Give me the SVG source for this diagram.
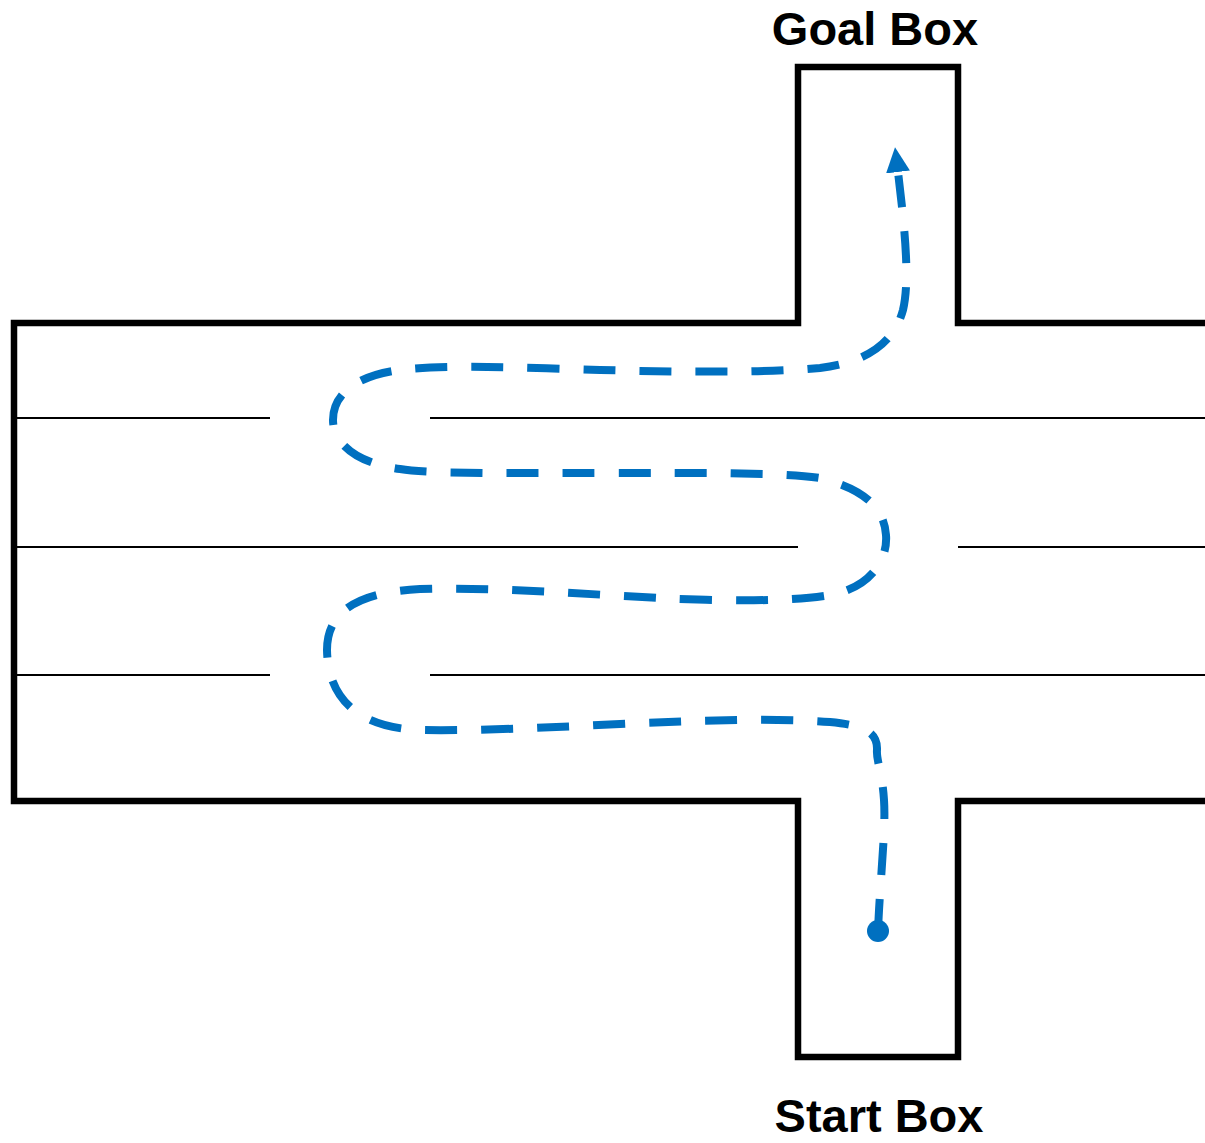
<svg xmlns="http://www.w3.org/2000/svg" width="1205" height="1143" viewBox="0 0 1205 1143">
  <style>
    .wall { fill: none; stroke: #000; stroke-width: 6.5; stroke-linejoin: miter; }
    .lane { stroke: #000; stroke-width: 2; }
    .route { fill: none; stroke: #0070C0; stroke-width: 8; stroke-dasharray: 32 24; }
    .label { font-family: "Liberation Sans", Arial, sans-serif; font-weight: bold; font-size: 47px; fill: #000; text-anchor: middle; }
  </style>
  <defs>
    <marker id="arrow" markerUnits="userSpaceOnUse" viewBox="0 0 25 24" markerWidth="25" markerHeight="24" refX="0" refY="12" orient="auto">
      <path d="M0,0 L25,12 L0,24 Z" fill="#0070C0"/>
    </marker>
  </defs>

  <!-- maze outline with goal box on top and start box below -->
  <g id="maze">
    <polyline class="wall" points="1205,323 958,323 958,67 798,67 798,323 14,323 14,801 798,801 798,1057 958,1057 958,801 1205,801"/>
  </g>

  <!-- inner partitions with openings -->
  <g id="partitions">
    <line class="lane" x1="17" y1="418" x2="270" y2="418"/>
    <line class="lane" x1="430" y1="418" x2="1205" y2="418"/>
    <line class="lane" x1="17" y1="547" x2="798" y2="547"/>
    <line class="lane" x1="958" y1="547" x2="1205" y2="547"/>
    <line class="lane" x1="17" y1="675" x2="270" y2="675"/>
    <line class="lane" x1="430" y1="675" x2="1205" y2="675"/>
  </g>

  <g id="goal-box">
    <text class="label" x="875" y="45">Goal Box</text>
  </g>

  <g id="start-box">
    <text class="label" x="879" y="1132">Start Box</text>
  </g>

  <!-- route from start to goal -->
  <g id="connectors">
    <circle cx="878" cy="931" r="11" fill="#0070C0"/>
    <path class="route" marker-end="url(#arrow)" d="M 878 931
      C 880 880, 886 830, 884 800
      C 882 770, 876 760, 877 750
      C 878 730, 860 725, 830 722
      C 780 718, 700 720, 620 724
      C 540 728, 470 731, 420 730
      C 360 728, 328 700, 327 650
      C 327 610, 360 592, 420 589
      C 500 587, 580 594, 660 598
      C 720 601, 790 602, 830 595
      C 870 588, 888 560, 886 535
      C 884 505, 860 488, 820 478
      C 780 472, 700 473, 600 473
      C 500 473, 430 474, 400 469
      C 360 464, 333 445, 333 420
      C 333 392, 360 375, 400 370
      C 450 364, 530 368, 600 370
      C 680 372, 760 373, 820 368
      C 870 362, 895 340, 903 310
      C 910 280, 905 230, 898 172"/>
  </g>
</svg>
